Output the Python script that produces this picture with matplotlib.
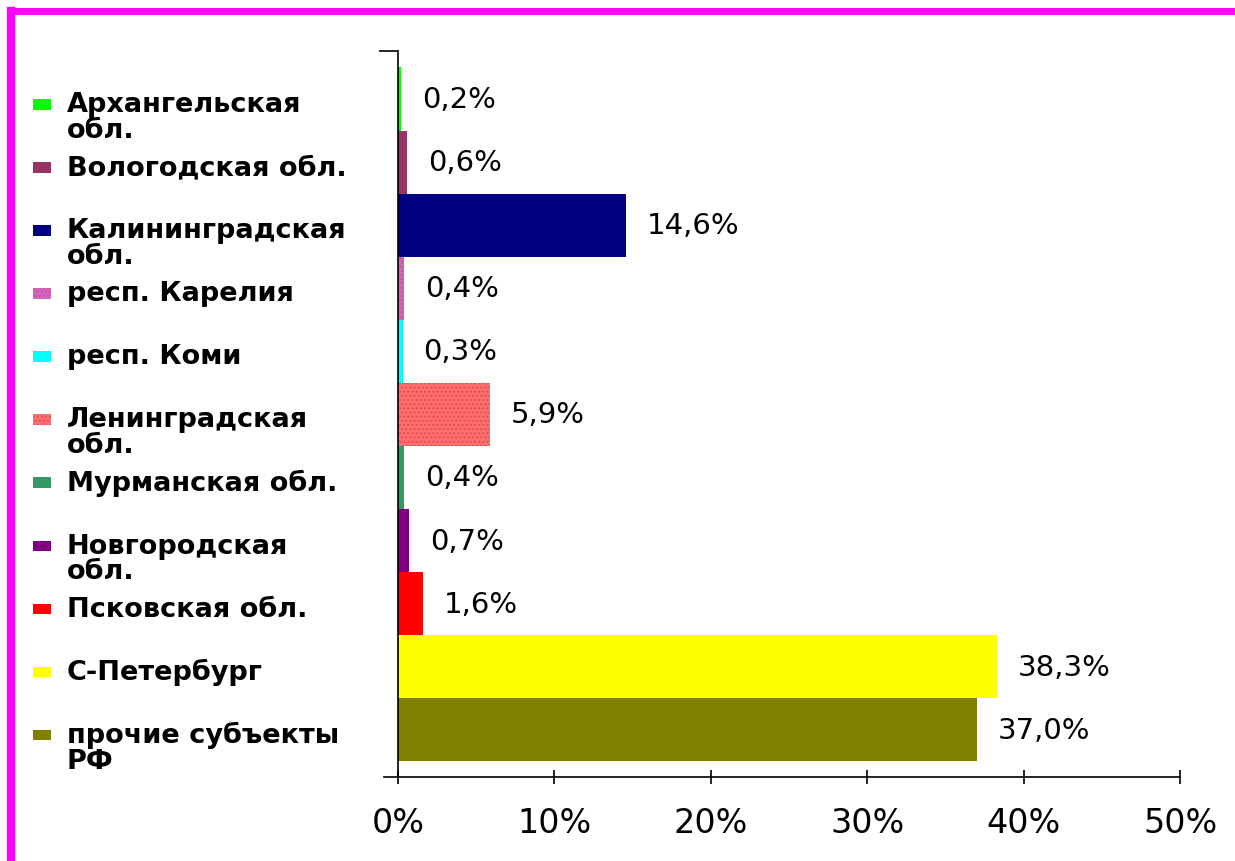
import matplotlib
matplotlib.use("Agg")
import matplotlib.pyplot as plt
import matplotlib.transforms as mtransforms
from matplotlib.patches import Rectangle
from matplotlib.lines import Line2D

# data
regions = ["Архангельская\nобл.", "Вологодская обл.", "Калининградская\nобл.",
           "респ. Карелия", "респ. Коми", "Ленинградская\nобл.", "Мурманская обл.",
           "Новгородская\nобл.", "Псковская обл.", "С-Петербург", "прочие субъекты\nРФ"]
shares = [0.2, 0.6, 14.6, 0.4, 0.3, 5.9, 0.4, 0.7, 1.6, 38.3, 37.0]
colors = ["#00FF00", "#993366", "#000080", "#CC66CC", "#00FFFF", "#FF7070",
          "#339966", "#800080", "#FF0000", "#FFFF00", "#808000"]
hatches = ["", "", "", "....", "", "....", "", "", "", "", ""]
ticks = [0, 10, 20, 30, 40, 50]

fig = plt.figure(figsize=(12.35, 8.62), dpi=100)
ax = fig.add_axes([0.3223, 0.0974, 0.6332, 0.8422])

pos = list(range(len(regions)))
bars = ax.barh(pos, shares, height=1.0, color=colors, edgecolor="none")
for b, h in zip(bars, hatches):
    if h:
        b.set_hatch(h)
        b.set_edgecolor("#E05050")
        b.set_linewidth(0)

ax.set_xlim(0, 50)
ax.set_ylim(10.75, -0.76)
ax.set_xticks(ticks)
ax.set_xticklabels([f"{t}%" for t in ticks], fontsize=24)
ax.tick_params(axis="x", direction="inout", length=10, width=1.2, pad=16)
ax.set_yticks([-0.76])
ax.set_yticklabels([])
ax.tick_params(axis="y", direction="out", length=14, width=1.2)
ax.spines["top"].set_visible(False)
ax.spines["right"].set_visible(False)
ax.spines["left"].set_linewidth(1.2)
ax.spines["bottom"].set_linewidth(1.2)
ax.spines["bottom"].set_bounds(-0.9, 50)

# value labels
for p, v in zip(pos, shares):
    ax.annotate(f"{v:.1f}%".replace(".", ","), (v, p), xytext=(15, 0),
                textcoords="offset points", va="center", ha="left", fontsize=21)

# legend on the left, aligned with the bars
trans = mtransforms.blended_transform_factory(fig.transFigure, ax.transData)
for p, name, c, h in zip(pos, regions, colors, hatches):
    y = p + 0.08
    ax.add_patch(Rectangle((0.027, y - 0.08), 0.0146, 0.17, transform=trans,
                           facecolor=c, edgecolor="#E05050" if h else "none",
                           hatch=h, linewidth=0, clip_on=False))
    lines = name.split("\n")
    for k, line in enumerate(lines):
        ax.text(0.054, y + k * 0.41, line, transform=trans, va="center", ha="left",
                fontsize=19.5, fontweight="bold", family="DejaVu Sans")

# magenta frame (top and left)
fig.add_artist(Line2D([0.009, 1.0], [0.9855, 0.9855], color="#FF00FF", lw=5,
                      transform=fig.transFigure))
fig.add_artist(Line2D([0.009, 0.009], [0.9855, 0.0], color="#FF00FF", lw=6,
                      transform=fig.transFigure))

fig.savefig("out.png", dpi=100)
